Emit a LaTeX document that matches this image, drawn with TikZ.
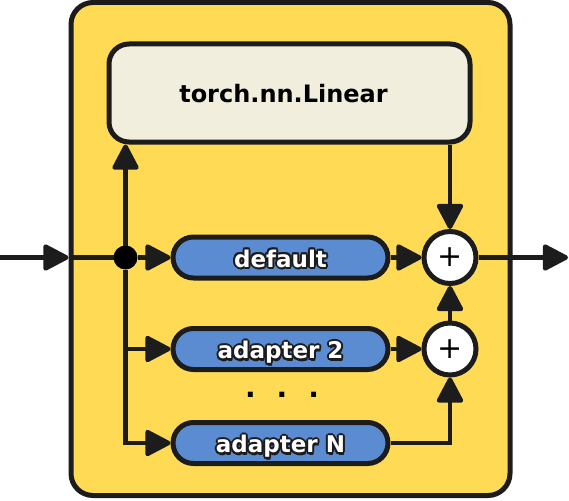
\documentclass[tikz,border=0pt]{standalone}
\usepackage{fontspec}
\setmainfont{DejaVu Sans}
\usetikzlibrary{arrows.meta}
\definecolor{ink}{HTML}{1C1C1C}
\definecolor{boxyellow}{HTML}{FFDB55}
\definecolor{linfill}{HTML}{F2EEDE}
\definecolor{pillblue}{HTML}{5B8CD2}
\newcommand\olcopy[3]{\makebox[0pt][l]{\hspace*{#1}\raisebox{#2}{\textcolor{ink}{#3}}}}
\newcommand\outl[1]{\olcopy{2pt}{0pt}{#1}\olcopy{-2pt}{0pt}{#1}\olcopy{0pt}{2pt}{#1}\olcopy{0pt}{-2pt}{#1}\olcopy{1.4pt}{1.4pt}{#1}\olcopy{-1.4pt}{1.4pt}{#1}\olcopy{1.4pt}{-1.4pt}{#1}\olcopy{-1.4pt}{-1.4pt}{#1}\olcopy{1pt}{-2.5pt}{#1}\textcolor{white}{#1}}
\tikzset{
  outerbox/.style={draw=ink, line width=5pt, fill=boxyellow, rounded corners=22pt, minimum width=439pt, minimum height=493pt, inner sep=0pt},
  linbox/.style={draw=ink, line width=5pt, fill=linfill, rounded corners=20pt, minimum width=361pt, minimum height=98pt, inner sep=0pt, font=\fontsize{24}{28}\selectfont\bfseries, text=black, text depth=0pt},
  pill/.style={draw=ink, line width=5pt, fill=pillblue, rounded corners=20.5pt, minimum width=215pt, minimum height=41pt, inner sep=0pt, font=\fontsize{23}{26}\selectfont\bfseries, text depth=0pt},
  plusnode/.style={draw=ink, line width=5pt, fill=white, circle, minimum size=52pt, inner sep=0pt, font=\fontsize{30}{30}\selectfont, text=black},
  junction/.style={fill=black, circle, minimum size=24pt, inner sep=0pt, outer sep=0pt},
  conn/.style={draw=ink, line width=4.5pt, -{Triangle[length=28pt,width=28pt,round]}},
  plainline/.style={draw=ink, line width=4.5pt},
  dotsnode/.style={font=\fontsize{28}{30}\selectfont\bfseries, text=black, inner sep=0pt, anchor=base}
}
\begin{document}
\begin{tikzpicture}[x=1pt,y=-1pt]
\useasboundingbox (0,0) rectangle (569,500);
\node[outerbox] (box) at (290.5,249) {};
\node[linbox] (torch) at (289.5,93) {torch.nn.Linear\hspace*{12pt}};
\node[pill] (p0) at (280.5,257.5) {\outl{default}};
\node[pill] (p2) at (280.5,349) {\outl{adapter 2}};
\node[pill] (pN) at (280.5,443) {\outl{adapter N}};
\node[dotsnode] (dots) at (282,397.5) {.\hspace{21pt}.\hspace{21pt}.};
\node[plusnode] (c1) at (450,257.5) {+};
\node[plusnode] (c2) at (450,349) {+};
\node[junction] (dot) at (125.5,257.5) {};
\coordinate (inL) at (0,257.5);
\coordinate (outR) at (568,257.5);
\draw[conn] (inL) -- (box.west |- dot);
\draw[plainline] (box.west |- dot) -- (dot);
\draw[conn] (dot) -- (p0);
\draw[conn] (dot) -- (torch.south -| dot);
\draw[conn] (dot |- p2) -- (p2);
\draw[conn] (dot) |- (pN);
\draw[conn] (p0) -- (c1);
\draw[conn] (p2) -- (c2);
\draw[conn] (torch.south -| c1) -- (c1);
\draw[conn] (c2) -- (c1);
\draw[conn] (pN) -| (c2);
\draw[conn] (c1) -- (outR);
\end{tikzpicture}
\end{document}
